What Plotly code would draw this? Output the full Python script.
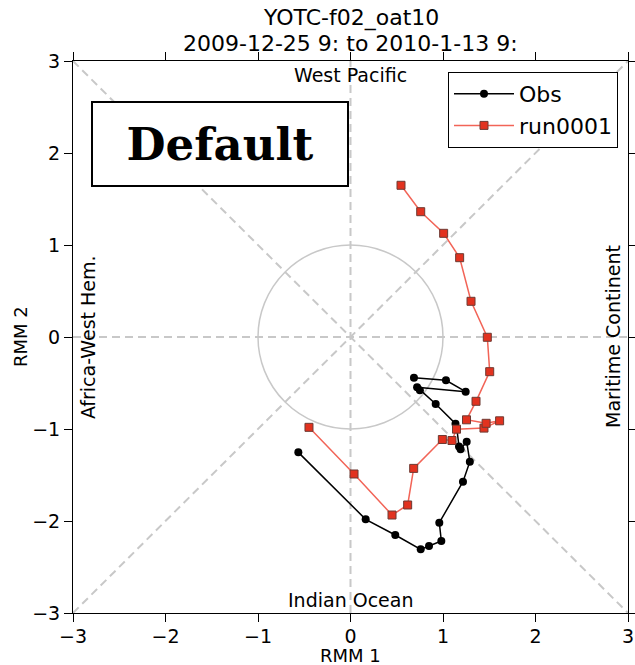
import plotly.graph_objects as go

# ---- data ----
obs_rmm1 = [-0.564, 0.164, 0.484, 0.759, 0.849, 0.982, 0.960, 1.216, 1.290, 1.256,
            1.190, 1.173, 1.150, 1.135, 0.921, 0.750, 0.720, 1.245, 1.032, 0.686]
obs_rmm2 = [-1.254, -1.982, -2.152, -2.308, -2.272, -2.217, -2.018, -1.573, -1.355, -1.138,
            -1.220, -1.190, -1.000, -0.942, -0.728, -0.580, -0.545, -0.594, -0.471, -0.443]
run_rmm1 = [-0.449, 0.038, 0.449, 0.618, 0.683, 0.993, 1.097, 1.146, 1.443, 1.612,
            1.466, 1.254, 1.357, 1.505, 1.479, 1.303, 1.180, 1.007, 0.759, 0.546]
run_rmm2 = [-0.982, -1.489, -1.935, -1.826, -1.428, -1.114, -1.125, -1.002, -0.990, -0.911,
            -0.938, -0.900, -0.699, -0.377, -0.003, 0.388, 0.862, 1.127, 1.362, 1.649]
tick_vals = [-3, -2, -1, 0, 1, 2, 3]
title_line1 = "YOTC-f02_oat10"
title_line2 = "2009-12-25 9: to 2010-1-13 9:"
phase_labels = {"top": "West Pacific", "bottom": "Indian Ocean",
                "left": "Africa-West Hem.", "right": "Maritime Continent"}

FONT = "DejaVu Sans"
GRAY = "#c8c8c8"

fig = go.Figure()

# phase guide lines
dash = "8px,5px"
for (x0, y0, x1, y1) in [(-3, 0, 3, 0), (0, -3, 0, 3), (-3, -3, 3, 3), (-3, 3, 3, -3)]:
    fig.add_shape(type="line", xref="x", yref="y", x0=x0, y0=y0, x1=x1, y1=y1,
                  line=dict(color=GRAY, width=2, dash=dash), layer="below")
fig.add_shape(type="circle", xref="x", yref="y", x0=-1, y0=-1, x1=1, y1=1,
              line=dict(color=GRAY, width=1.5), layer="below")

fig.add_trace(go.Scatter(x=obs_rmm1, y=obs_rmm2, mode="lines+markers", name="Obs",
                         line=dict(color="black", width=1.5),
                         marker=dict(symbol="circle", size=8, color="black")))
fig.add_trace(go.Scatter(x=run_rmm1, y=run_rmm2, mode="lines+markers", name="run0001",
                         line=dict(color="#f26457", width=1.5),
                         marker=dict(symbol="square", size=8, color="#e2321f",
                                     line=dict(color="#6e3a33", width=1))))

axis_common = dict(range=[-3, 3], tickvals=tick_vals, showgrid=False, zeroline=False,
                   showline=True, linecolor="black", linewidth=1, mirror="ticks",
                   ticks="outside", ticklen=8, tickcolor="black", tickwidth=1,
                   automargin=False,
                   tickfont=dict(family=FONT, size=19, color="black"))
fig.update_xaxes(**axis_common, ticklabelstandoff=-2)
fig.update_yaxes(**axis_common, ticklabelstandoff=0)

ann = []
def py(p):
    return (613 - p) / 552
def px(p):
    return (p - 73) / 555

ann.append(dict(text=title_line1, x=0.5, y=py(18), xref="paper", yref="paper",
                showarrow=False, font=dict(family=FONT, size=22, color="black"), yanchor="middle"))
ann.append(dict(text=title_line2, x=0.5, y=py(44), xref="paper", yref="paper",
                showarrow=False, font=dict(family=FONT, size=22, color="black"), yanchor="middle"))
ann.append(dict(text="RMM 1", x=px(350), y=py(655), xref="paper", yref="paper",
                showarrow=False, font=dict(family=FONT, size=18, color="black"), yanchor="middle"))
ann.append(dict(text="RMM 2", x=px(20), y=py(337), xref="paper", yref="paper", textangle=-90,
                showarrow=False, font=dict(family=FONT, size=18, color="black"),
                xanchor="center", yanchor="middle"))
ann.append(dict(text=phase_labels["top"], x=0.5, y=py(75), xref="paper", yref="paper",
                showarrow=False, font=dict(family=FONT, size=19, color="black"), yanchor="middle"))
ann.append(dict(text=phase_labels["bottom"], x=0.5, y=py(600), xref="paper", yref="paper",
                showarrow=False, font=dict(family=FONT, size=19, color="black"), yanchor="middle"))
ann.append(dict(text=phase_labels["left"], x=px(88), y=py(337), xref="paper", yref="paper",
                showarrow=False, textangle=-90, font=dict(family=FONT, size=19, color="black"),
                xanchor="center", yanchor="middle"))
ann.append(dict(text=phase_labels["right"], x=px(613), y=py(337), xref="paper", yref="paper",
                showarrow=False, textangle=-90, font=dict(family=FONT, size=19, color="black"),
                xanchor="center", yanchor="middle"))
ann.append(dict(text="<b>Default</b>", x=px(220), y=py(144), xref="paper", yref="paper",
                showarrow=False, font=dict(family="DejaVu Serif", size=45, color="black"),
                width=252, height=80, bordercolor="black", borderwidth=2, bgcolor="white",
                xanchor="center", yanchor="middle"))

fig.update_layout(
    width=635, height=665,
    margin=dict(l=73, r=7, t=61, b=52),
    plot_bgcolor="white", paper_bgcolor="white",
    annotations=ann,
    showlegend=True,
    legend=dict(x=px(618), y=py(72), xanchor="right", yanchor="top",
                bordercolor="black", borderwidth=1, bgcolor="white",
                font=dict(family=FONT, size=22, color="black"),
                itemwidth=60, tracegroupgap=0),
)

fig.write_html("out.html")
